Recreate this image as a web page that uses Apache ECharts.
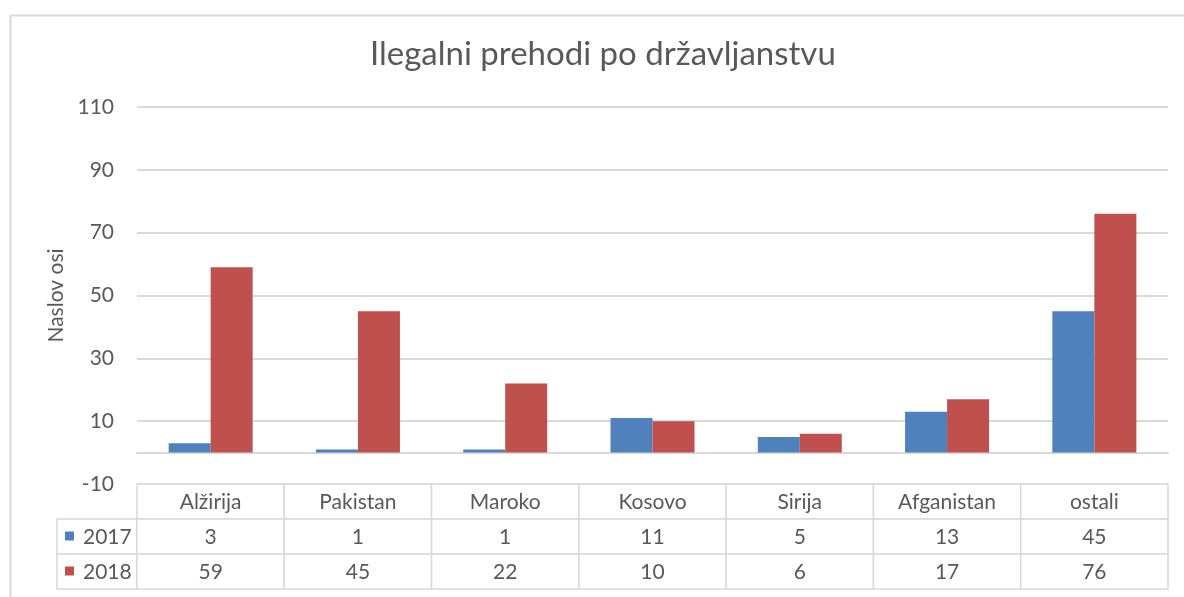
<!DOCTYPE html>
<html>
<head>
<meta charset="utf-8">
<script src="https://cdn.jsdelivr.net/npm/echarts@6/dist/echarts.min.js"></script>
<style>
html,body{margin:0;padding:0;background:#fff;}
#chart{width:1184px;height:597px;}
</style>
</head>
<body>
<div id="chart"></div>
<script>
const titleText = 'Ilegalni prehodi po državljanstvu';
const axisTitle = 'Naslov osi';
const categories = ['Alžirija', 'Pakistan', 'Maroko', 'Kosovo', 'Sirija', 'Afganistan', 'ostali'];
const seriesNames = ['2017', '2018'];
const values2017 = [3, 1, 1, 11, 5, 13, 45];
const values2018 = [59, 45, 22, 10, 6, 17, 76];
const yMin = -10, yMax = 110, yInterval = 20;

const colors = ['#4F81BD', '#C0504D'];
const textColor = '#595959';
const lineColor = '#D9D9D9';
const FONT = 'Lato, "Liberation Sans", sans-serif';
const LABEL_SIZE = 21;
const TITLE_SIZE = 33;
const legendColW = 80;
const seriesValues = [values2017, values2018];

// title centred on the chart-area frame (which starts at x=8)
const measureCtx = document.createElement('canvas').getContext('2d');
measureCtx.font = TITLE_SIZE + 'px ' + FONT;
const titleW = measureCtx.measureText(titleText).width;
const titleLeft = Math.round(603 - titleW / 2 - 5);

// table cells: [col, row]; col -1 is legend column
const tableCells = [];
for (let r = 0; r < 3; r++) {
  for (let c = -1; c < categories.length; c++) {
    if (c === -1 && r === 0) continue;
    tableCells.push([c, r]);
  }
}

function renderCell(params, api) {
  const col = api.value(0), row = api.value(1);
  const cs = params.coordSys;
  const colW = api.size([1, 0])[0];
  const rowH = api.size([0, 1])[1];
  const cy = api.coord([0, row])[1];
  const y = cy - rowH / 2;
  if (col < 0) {
    const x = cs.x - legendColW;
    return {
      type: 'group',
      children: [
        {type: 'rect', shape: {x: x, y: y, width: legendColW, height: rowH},
         style: {fill: '#fff', stroke: lineColor, lineWidth: 1.5}},
        {type: 'rect', shape: {x: x + 8, y: cy - 5, width: 9, height: 9},
         style: {fill: colors[row - 1]}},
        {type: 'text', x: x + 26, y: cy + 1,
         style: {text: seriesNames[row - 1], fill: textColor, font: LABEL_SIZE + 'px ' + FONT,
                 verticalAlign: 'middle', align: 'left'}}
      ]
    };
  }
  const cx = api.coord([col, row])[0];
  const txt = row === 0 ? categories[col] : String(seriesValues[row - 1][col]);
  return {
    type: 'group',
    children: [
      {type: 'rect', shape: {x: cx - colW / 2, y: y, width: colW, height: rowH},
       style: {fill: '#fff', stroke: lineColor, lineWidth: 1.5}},
      {type: 'text', x: cx, y: cy + 1,
       style: {text: txt, fill: textColor, font: LABEL_SIZE + 'px ' + FONT,
               verticalAlign: 'middle', align: 'center'}}
    ]
  };
}

const chart = echarts.init(document.getElementById('chart'), null, {renderer: 'canvas'});
chart.setOption({
  animation: false,
  backgroundColor: '#fff',
  title: {
    text: titleText, left: titleLeft, top: 33,
    textStyle: {fontFamily: FONT, fontSize: TITLE_SIZE, fontWeight: 'normal', color: textColor}
  },
  graphic: [{
    type: 'rect', left: 8, top: 13, silent: true,
    shape: {width: 1200, height: 620},
    style: {fill: 'none', stroke: lineColor, lineWidth: 2}
  }],
  grid: [
    {left: 137, right: 16, top: 107, height: 377},
    {left: 137, right: 16, top: 484, height: 105}
  ],
  xAxis: [
    {type: 'category', gridIndex: 0, data: categories,
     axisLine: {show: true, onZero: true, lineStyle: {color: lineColor, width: 2}},
     axisTick: {show: false}, axisLabel: {show: false}},
    {type: 'category', gridIndex: 1, data: categories, show: false}
  ],
  yAxis: [
    {type: 'value', gridIndex: 0, min: yMin, max: yMax, interval: yInterval,
     name: axisTitle, nameLocation: 'middle', nameGap: 68, nameRotate: 90,
     nameTextStyle: {fontFamily: FONT, fontSize: LABEL_SIZE, color: textColor},
     axisLine: {show: false}, axisTick: {show: false},
     axisLabel: {fontFamily: FONT, fontSize: LABEL_SIZE, color: textColor, margin: 23},
     splitLine: {lineStyle: {color: lineColor, width: 2}}},
    {type: 'category', gridIndex: 1, data: ['', seriesNames[0], seriesNames[1]], inverse: true, show: false}
  ],
  series: [
    {name: seriesNames[0], type: 'bar', xAxisIndex: 0, yAxisIndex: 0, data: values2017,
     barWidth: 42, barGap: '0%', itemStyle: {color: colors[0]}},
    {name: seriesNames[1], type: 'bar', xAxisIndex: 0, yAxisIndex: 0, data: values2018,
     barWidth: 42, barGap: '0%', itemStyle: {color: colors[1]}},
    {type: 'custom', xAxisIndex: 1, yAxisIndex: 1, clip: false,
     renderItem: renderCell, data: tableCells, encode: {x: 0, y: 1}, silent: true}
  ]
});
</script>
</body>
</html>
